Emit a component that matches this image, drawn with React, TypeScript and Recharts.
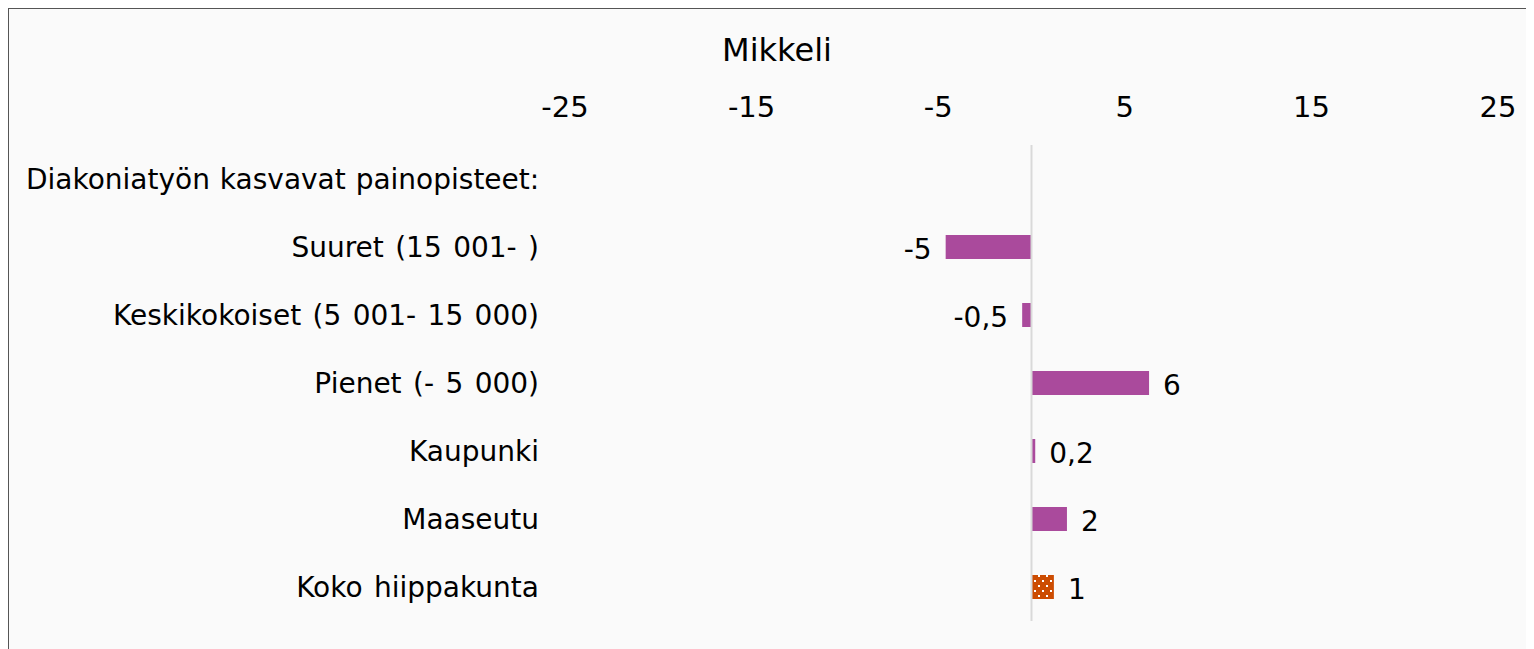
import React from 'react';
import { BarChart, Bar, XAxis, YAxis, ReferenceLine, LabelList, Cell } from 'recharts';

const categories = [
  'Diakoniatyön kasvavat painopisteet:',
  'Suuret (15 001- )',
  'Keskikokoiset (5 001- 15 000)',
  'Pienet (- 5 000)',
  'Kaupunki',
  'Maaseutu',
  'Koko hiippakunta',
];
const values: (number | null)[] = [null, -4.6, -0.5, 6.3, 0.2, 1.9, 1.2];
const valueLabels = ['', '-5', '-0,5', '6', '0,2', '2', '1'];
const xTicks = [-25, -15, -5, 5, 15, 25];

const data = categories.map((name, i) => ({ name, value: values[i], label: valueLabels[i] }));

const FONT = '"DejaVu Sans", Verdana, sans-serif';
const PURPLE = '#AA4A9C';
const ORANGE = '#CC4C02';

const XTick = (props: any) => {
  const { x, payload } = props;
  return (
    <text x={x} y={98} textAnchor="middle" dominantBaseline="central" fontSize={29} fill="#000" fontFamily={FONT}>
      {payload.value}
    </text>
  );
};

const YTick = (props: any) => {
  const { y, payload, index } = props;
  const first = index === 0;
  return (
    <text
      x={first ? 17 : 530}
      y={y}
      textAnchor={first ? 'start' : 'end'}
      dominantBaseline="central"
      fontSize={28}
      fill="#000"
      fontFamily={FONT}
      style={{ wordSpacing: first ? 1 : 2.5 }}
    >
      {payload.value}
    </text>
  );
};

const ValueLabel = (props: any) => {
  const { x, y, width, height, value } = props;
  if (!value) return null;
  const left = Math.min(x, x + width);
  const right = Math.max(x, x + width);
  const neg = String(value).startsWith('-');
  return (
    <text
      x={neg ? left - 14 : right + 14}
      y={y + height / 2 + 2}
      textAnchor={neg ? 'end' : 'start'}
      dominantBaseline="central"
      fontSize={28}
      fill="#000"
      fontFamily={FONT}
    >
      {value}
    </text>
  );
};

export default function App() {
  return (
    <div
      style={{
        position: 'relative',
        width: 1540,
        height: 660,
        border: '2px solid #555',
        background: '#FAFAFA',
        boxSizing: 'border-box',
        marginLeft: -1,
        marginTop: -1,
        fontFamily: FONT,
      }}
    >
      <div
        style={{
          position: 'absolute',
          left: 0,
          width: 1536,
          top: 22,
          textAlign: 'center',
          fontSize: 32,
          color: '#000',
        }}
      >
        Mikkeli
      </div>
      <BarChart
        width={1534}
        height={640}
        data={data}
        layout="vertical"
        barSize={24}
        margin={{ top: 106, right: 45, bottom: 28, left: 0 }}
      >
        <defs>
          <pattern id="dots" width="8" height="10" patternUnits="userSpaceOnUse">
            <rect width="8" height="10" fill={ORANGE} />
            <rect x="1" y="1" width="2" height="2" fill="#fff" />
            <rect x="5" y="6" width="2" height="2" fill="#fff" />
          </pattern>
        </defs>
        <XAxis
          type="number"
          orientation="top"
          domain={[-25, 25]}
          ticks={xTicks}
          axisLine={false}
          tickLine={false}
          height={30}
          tick={<XTick />}
        />
        <YAxis
          type="category"
          dataKey="name"
          width={556}
          axisLine={false}
          tickLine={false}
          interval={0}
          tick={<YTick />}
        />
        <ReferenceLine x={0} stroke="#D9D9D9" strokeWidth={2} />
        <Bar dataKey="value" fill={PURPLE} isAnimationActive={false}>
          {data.map((d, i) => (
            <Cell key={i} fill={i === data.length - 1 ? 'url(#dots)' : PURPLE} />
          ))}
          <LabelList dataKey="label" content={<ValueLabel />} />
        </Bar>
      </BarChart>
    </div>
  );
}
